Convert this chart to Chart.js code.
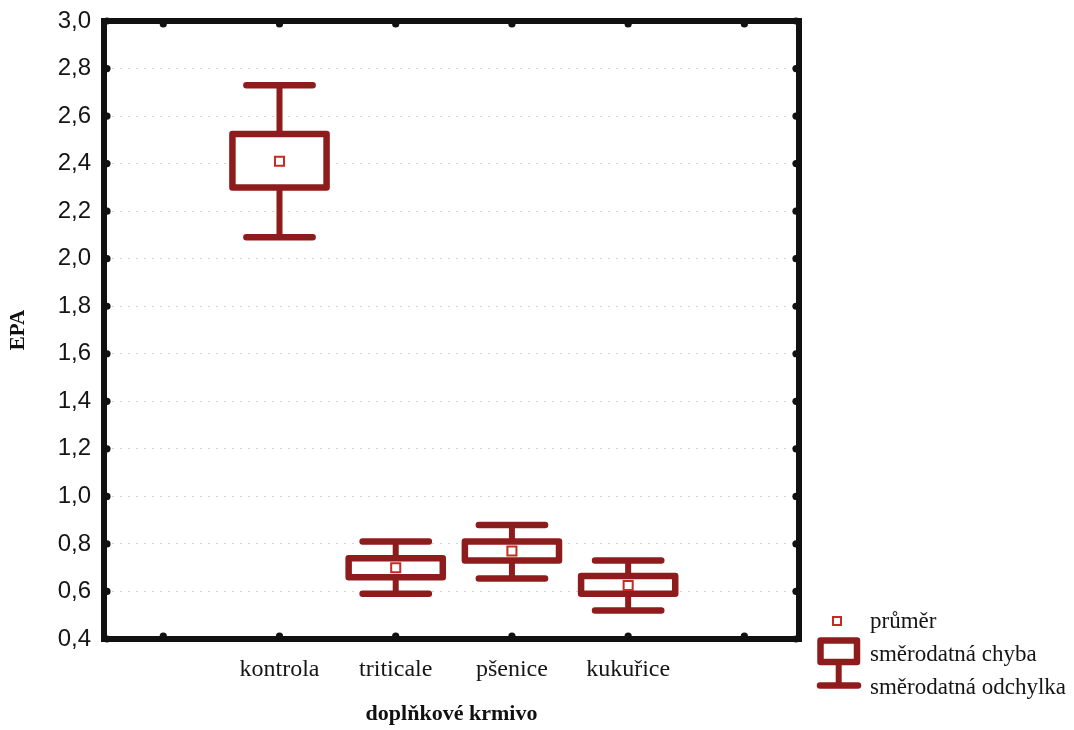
<!DOCTYPE html>
<html>
<head>
<meta charset="utf-8">
<script src="https://cdn.jsdelivr.net/npm/chart.js@4/dist/chart.umd.min.js"></script>
<style>
  html, body { margin: 0; padding: 0; background: #ffffff; }
  #wrap { width: 1074px; height: 730px; }
</style>
</head>
<body>
<div id="wrap"><canvas id="c" width="1074" height="730"></canvas></div>
<script>
// ---- data ----
const categories = ['kontrola', 'triticale', 'pšenice', 'kukuřice'];
const xLabels = ['', 'kontrola', 'triticale', 'pšenice', 'kukuřice', ''];
const meanValues = [2.41, 0.70, 0.77, 0.625];
const seLow  = [2.30, 0.66, 0.73, 0.59];
const seHigh = [2.525, 0.74, 0.81, 0.665];
const sdLow  = [2.09, 0.59, 0.655, 0.52];
const sdHigh = [2.73, 0.81, 0.88, 0.73];
const yTickValues = [0.4, 0.6, 0.8, 1.0, 1.2, 1.4, 1.6, 1.8, 2.0, 2.2, 2.4, 2.6, 2.8, 3.0];
const legendLabels = ['průměr', 'směrodatná chyba', 'směrodatná odchylka'];
const xTitle = 'doplňkové krmivo';
const yTitle = 'EPA';

// ---- styles ----
const DARK_RED = '#8e1c1c';
const MEAN_RED = '#c62a22';
const FRAME = '#111111';
const SERIF = '"Liberation Serif", "Times New Roman", serif';
const SANS = '"Liberation Sans", Arial, sans-serif';

const boxPlugin = {
  id: 'boxWhisker',
  beforeDatasetsDraw(chart) {
    const ctx = chart.ctx;
    const xs = chart.scales.x, ys = chart.scales.y;
    const slot = xs.getPixelForValue(1) - xs.getPixelForValue(0);
    const halfBox = 0.405 * slot;
    const halfCap = 0.285 * slot;
    ctx.save();
    ctx.strokeStyle = DARK_RED;
    categories.forEach((cat, i) => {
      const x = xs.getPixelForValue(xLabels.indexOf(cat));
      const yMeanTop = ys.getPixelForValue(seHigh[i]);
      const yMeanBot = ys.getPixelForValue(seLow[i]);
      const ySdTop = ys.getPixelForValue(sdHigh[i]);
      const ySdBot = ys.getPixelForValue(sdLow[i]);
      ctx.lineCap = 'butt';
      ctx.lineWidth = 6;
      ctx.beginPath();
      ctx.moveTo(x, ySdTop); ctx.lineTo(x, yMeanTop);
      ctx.moveTo(x, yMeanBot); ctx.lineTo(x, ySdBot);
      ctx.stroke();
      ctx.lineCap = 'round';
      ctx.lineWidth = 6.5;
      ctx.beginPath();
      ctx.moveTo(x - halfCap, ySdTop); ctx.lineTo(x + halfCap, ySdTop);
      ctx.moveTo(x - halfCap, ySdBot); ctx.lineTo(x + halfCap, ySdBot);
      ctx.stroke();
      ctx.fillStyle = '#ffffff';
      ctx.fillRect(x - halfBox, yMeanTop, 2 * halfBox, yMeanBot - yMeanTop);
      ctx.lineJoin = 'round';
      ctx.lineWidth = 6.5;
      ctx.strokeRect(x - halfBox, yMeanTop, 2 * halfBox, yMeanBot - yMeanTop);
    });
    ctx.restore();
  },
  afterDraw(chart) {
    const ctx = chart.ctx;
    const a = chart.chartArea;
    const xs = chart.scales.x, ys = chart.scales.y;
    ctx.save();
    ctx.strokeStyle = FRAME;
    ctx.lineWidth = 6;
    ctx.lineJoin = 'miter';
    ctx.strokeRect(a.left, a.top, a.right - a.left, a.bottom - a.top);
    ctx.fillStyle = FRAME;
    const dot = (x, y) => { ctx.beginPath(); ctx.arc(x, y, 3.6, 0, Math.PI * 2); ctx.fill(); };
    xLabels.forEach((l, i) => {
      const x = xs.getPixelForValue(i);
      dot(x, a.top + 3);
      dot(x, a.bottom - 3);
    });
    yTickValues.forEach(v => {
      const y = ys.getPixelForValue(v);
      dot(a.left + 3, y);
      dot(a.right - 3, y);
    });
    // legend
    ctx.strokeStyle = MEAN_RED;
    ctx.lineWidth = 2;
    ctx.fillStyle = '#ffffff';
    ctx.fillRect(833, 617, 8, 8);
    ctx.strokeRect(833, 617, 8, 8);
    ctx.strokeStyle = DARK_RED;
    ctx.lineWidth = 6.5;
    ctx.lineJoin = 'round';
    ctx.strokeRect(820.5, 640.5, 36.5, 21.5);
    ctx.lineWidth = 6;
    ctx.beginPath();
    ctx.moveTo(838.7, 662); ctx.lineTo(838.7, 685.5);
    ctx.stroke();
    ctx.lineCap = 'round';
    ctx.lineWidth = 6.5;
    ctx.beginPath();
    ctx.moveTo(820, 685.5); ctx.lineTo(858, 685.5);
    ctx.stroke();
    ctx.fillStyle = '#151515';
    ctx.font = '23px ' + SERIF;
    ctx.textAlign = 'left';
    ctx.textBaseline = 'middle';
    const ly = [622, 655, 688];
    legendLabels.forEach((t, i) => ctx.fillText(t, 870, ly[i]));
    ctx.restore();
  }
};

const chart = new Chart(document.getElementById('c'), {
  type: 'scatter',
  data: {
    datasets: [{
      label: 'průměr',
      data: categories.map((c, i) => ({ x: xLabels.indexOf(c), y: meanValues[i] })),
      showLine: false,
      pointStyle: 'rect',
      pointRadius: 6.4,
      pointHoverRadius: 6.4,
      pointBorderWidth: 2,
      pointBorderColor: MEAN_RED,
      pointBackgroundColor: '#ffffff'
    }]
  },
  options: {
    responsive: false,
    animation: false,
    events: [],
    layout: { padding: { left: 0, top: 21, right: 275, bottom: 0 } },
    plugins: { legend: { display: false }, tooltip: { enabled: false } },
    scales: {
      x: {
        type: 'linear',
        min: -0.51,
        max: 5.47,
        afterBuildTicks(s) { s.ticks = xLabels.map((l, i) => ({ value: i })); },
        grid: { display: false, drawTicks: false },
        border: { display: false },
        ticks: { color: '#151515', font: { family: SERIF, size: 24 }, padding: 16, maxRotation: 0, autoSkip: false,
          callback: v => xLabels[v] },
        title: { display: true, text: xTitle, color: '#111', font: { family: SERIF, size: 22, weight: 'bold' }, padding: { top: 0, bottom: 2 } },
        afterFit(s) { s.height = 91; s.paddingLeft = 0; s.paddingRight = 0; }
      },
      y: {
        type: 'linear',
        min: 0.4,
        max: 3.0,
        afterBuildTicks(s) { s.ticks = yTickValues.map(v => ({ value: v })); },
        grid: { color: '#d4d4d4', lineWidth: 1, drawTicks: false },
        border: { display: false, dash: [2, 6] },
        ticks: { color: '#151515', font: { family: SANS, size: 24 }, padding: 13,
          callback: v => v.toFixed(1).replace('.', ',') },
        title: { display: true, text: yTitle, color: '#111', font: { family: SERIF, size: 21, weight: 'bold' }, padding: { top: 6, bottom: 0 } },
        afterFit(s) { s.width = 104; s.paddingTop = 0; s.paddingBottom = 0; }
      }
    }
  },
  plugins: [boxPlugin]
});
</script>
</body>
</html>
